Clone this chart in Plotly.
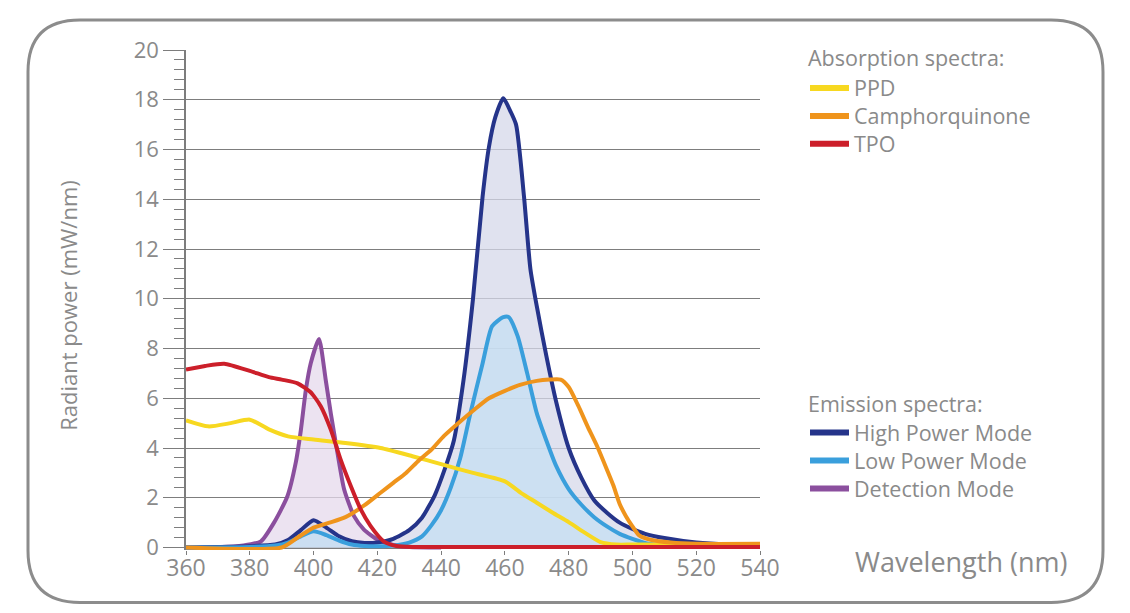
import plotly.graph_objects as go

# emission spectra (mW/nm)
wl_high = [360, 370, 380, 388, 392, 396, 400, 404, 408, 412, 416, 420, 425, 430, 434, 438, 441, 444,
           447, 450, 453, 455, 457, 459.5, 461.5, 463.5, 466, 468, 470, 473, 476, 480, 484, 488, 492,
           496, 500, 504, 510, 520, 530, 540]
high_power = [0, 0.02, 0.05, 0.12, 0.3, 0.7, 1.1, 0.8, 0.45, 0.25, 0.18, 0.2, 0.35, 0.7, 1.2, 2.1, 3.1,
              4.3, 6.7, 10.0, 14.1, 16.1, 17.3, 18.06, 17.6, 17.0, 14.1, 11.2, 9.7, 7.7, 5.9, 4.0, 2.8,
              1.9, 1.4, 1.0, 0.75, 0.55, 0.38, 0.2, 0.12, 0.1]

wl_low = [360, 380, 388, 392, 396, 400, 404, 408, 412, 416, 420, 425, 430, 434, 437, 440, 443, 446,
          449, 453, 456, 459.5, 461.2, 464, 467, 470, 473, 476, 480, 484, 488, 492, 496, 500, 505,
          510, 520, 540]
low_power = [0, 0.02, 0.08, 0.2, 0.45, 0.65, 0.5, 0.28, 0.12, 0.06, 0.05, 0.08, 0.2, 0.45, 0.9, 1.5,
             2.4, 3.6, 5.3, 7.4, 8.9, 9.26, 9.26, 8.5, 7.0, 5.4, 4.3, 3.3, 2.35, 1.72, 1.22, 0.85,
             0.55, 0.35, 0.15, 0.1, 0.1, 0.1]

wl_detect = [360, 370, 378, 383.5, 387.6, 391.8, 394.4, 396, 397.6, 399.1, 401.7, 403.8, 405.4,
             407.5, 409.6, 412.7, 415.8, 420, 425, 430, 440]
detection = [0, 0.01, 0.08, 0.25, 1.0, 2.06, 3.4, 4.7, 6.35, 7.4, 8.38, 6.75, 5.4, 3.8, 2.33, 1.26,
             0.72, 0.32, 0.1, 0.02, 0]

# absorption spectra
wl_ppd = [360, 367, 374, 380, 386, 392, 400, 410, 421, 431, 440, 450, 460, 465, 470, 475, 480, 485,
          490, 495, 500, 520, 540]
ppd = [5.11, 4.87, 5.0, 5.14, 4.75, 4.47, 4.34, 4.2, 4.0, 3.67, 3.35, 3.0, 2.66, 2.2, 1.8, 1.4,
       1.02, 0.6, 0.22, 0.12, 0.12, 0.12, 0.12]

wl_cq = [360, 390, 395, 400, 405, 410, 416, 421, 425, 429, 433, 437, 441, 446, 450, 455, 460, 465,
         470, 474, 477.5, 480, 483, 486, 489, 492, 494, 496, 498, 500, 502, 506, 512, 520, 540]
camphorquinone = [0, 0, 0.4, 0.8, 1.0, 1.22, 1.7, 2.2, 2.6, 3.0, 3.5, 3.94, 4.5, 5.07, 5.5, 6.0,
                  6.3, 6.55, 6.7, 6.75, 6.75, 6.45, 5.7, 4.85, 4.05, 3.13, 2.5, 1.75, 1.25, 0.85, 0.5,
                  0.3, 0.2, 0.15, 0.15]

wl_tpo = [360, 366, 372, 380, 386, 390, 395, 399, 402.3, 405.4, 408.5, 411.7, 414.8, 417.9, 422,
          426, 432, 540]
tpo = [7.15, 7.3, 7.39, 7.1, 6.85, 6.75, 6.6, 6.25, 5.67, 4.74, 3.53, 2.46, 1.53, 0.86, 0.25, 0.06,
       0.02, 0.02]

GRAY = "#8a8a8a"
GRID = "#7d7d7d"
FONT = "Open Sans"

# page body has an 8px margin, so positions below are given in window pixels
OFF = 8
W, H = 1122, 605
ML, MR, MT, MB = 178, 370, 42, 62.5


def px(x):
    return (x - OFF - ML) / (W - ML - MR)


def py(y):
    return (H - MB - (y - OFF)) / (H - MT - MB)


fig = go.Figure()

emission = [
    ("High Power Mode", wl_high, high_power, "#25348a", "rgba(214,216,234,0.75)"),
    ("Low Power Mode", wl_low, low_power, "#3a9fdc", "rgba(198,223,243,0.75)"),
    ("Detection Mode", wl_detect, detection, "#8b4f9e", "rgba(230,218,236,0.75)"),
]
# fills first, so every emission line stays visible on top of them
for name, x, y, color, fill in [emission[2], emission[0], emission[1]]:
    fig.add_trace(go.Scatter(
        x=x, y=y, mode="lines", showlegend=False, hoverinfo="skip",
        line=dict(width=0, shape="spline", smoothing=0.6),
        fill="tozeroy", fillcolor=fill,
    ))
for name, x, y, color, fill in [emission[2], emission[0], emission[1]]:
    fig.add_trace(go.Scatter(
        x=x, y=y, name=name, mode="lines", showlegend=False,
        line=dict(color=color, width=4, shape="spline", smoothing=0.6),
    ))

absorption = [
    ("PPD", wl_ppd, ppd, "#f7d820"),
    ("Camphorquinone", wl_cq, camphorquinone, "#ef941c"),
    ("TPO", wl_tpo, tpo, "#cc1f2a"),
]
for name, x, y, color in absorption:
    fig.add_trace(go.Scatter(
        x=x, y=y, name=name, mode="lines", showlegend=False,
        line=dict(color=color, width=4, shape="spline", smoothing=0.6),
    ))

# rounded frame
L, R, T, B, r = 28, 1103, 20, 603, 52
path = (f"M {px(L + r)},{py(T)} L {px(R - r)},{py(T)} Q {px(R)},{py(T)} {px(R)},{py(T + r)} "
        f"L {px(R)},{py(B - r)} Q {px(R)},{py(B)} {px(R - r)},{py(B)} "
        f"L {px(L + r)},{py(B)} Q {px(L)},{py(B)} {px(L)},{py(B - r)} "
        f"L {px(L)},{py(T + r)} Q {px(L)},{py(T)} {px(L + r)},{py(T)} Z")
fig.add_shape(type="path", path=path, xref="paper", yref="paper",
              line=dict(color="#8c8c8c", width=3), layer="below")

ITEM_FS = 21.5
STEP = ITEM_FS * 1.3  # plotly line spacing of multi-line text


def legend_block(title, y_title, items, y0):
    fig.add_annotation(x=px(807), y=py(y_title), xref="paper", yref="paper", text=title,
                       showarrow=False, xanchor="left", yanchor="middle", borderpad=0,
                       font=dict(size=21.5, color=GRAY, family=FONT))
    for i, (name, color) in enumerate(items):
        yy = py(y0 + i * STEP)
        fig.add_shape(type="line", xref="paper", yref="paper", x0=px(810), x1=px(849), y0=yy, y1=yy,
                      line=dict(color=color, width=6))
    fig.add_annotation(x=px(853), y=py(y0 + STEP), xref="paper", yref="paper",
                       text="<br>".join(name for name, _ in items), align="left",
                       showarrow=False, xanchor="left", yanchor="middle", borderpad=0,
                       font=dict(size=ITEM_FS, color=GRAY, family=FONT))


legend_block("Absorption spectra:", 58, [(a[0], a[3]) for a in absorption], 88)
legend_block("Emission spectra:", 404, [(e[0], e[3]) for e in emission], 433)

fig.add_annotation(x=px(68), y=py(306), xref="paper", yref="paper", text="Radiant power (mW/nm)",
                   textangle=-90, showarrow=False, xanchor="center", yanchor="middle",
                   font=dict(size=22, color=GRAY, family=FONT))
fig.add_annotation(x=px(961), y=py(562), xref="paper", yref="paper", text="Wavelength (nm)",
                   showarrow=False, xanchor="center", yanchor="middle",
                   font=dict(size=27, color=GRAY, family=FONT))

fig.update_layout(
    width=W, height=H,
    margin=dict(l=ML, r=MR, t=MT, b=MB),
    paper_bgcolor="white", plot_bgcolor="white",
    font=dict(family=FONT, color=GRAY),
    showlegend=False,
    xaxis=dict(range=[360, 540], dtick=20, tick0=360, ticks="outside", ticklen=4, tickcolor=GRID,
               showgrid=False, showline=False, zeroline=False, ticklabelstandoff=-7,
               tickfont=dict(size=23, color=GRAY, family=FONT)),
    yaxis=dict(range=[-0.1, 20], dtick=2, tick0=0, ticks="outside", ticklen=21, tickwidth=1.3,
               tickcolor=GRID, showgrid=True, gridcolor=GRID, gridwidth=1.3,
               showline=True, linecolor=GRID, linewidth=1.5,
               zeroline=True, zerolinecolor=GRID, zerolinewidth=1.5,
               minor=dict(dtick=0.4, tick0=0, ticks="outside", ticklen=10, tickwidth=1.2,
                          tickcolor=GRID, showgrid=False),
               tickfont=dict(size=22, color=GRAY, family=FONT)),
)

fig.write_html("out.html")
